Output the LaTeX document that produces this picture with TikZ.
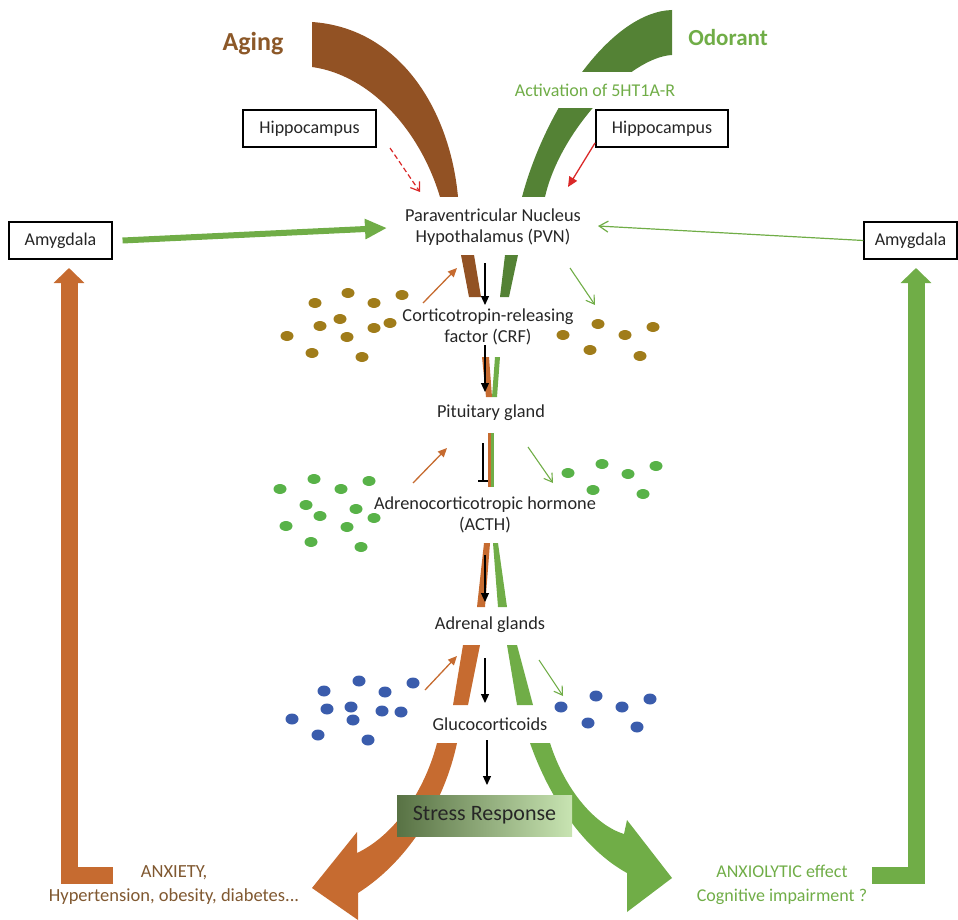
\documentclass[tikz,border=0pt]{standalone}
\usepackage{fontspec}
\setmainfont{Carlito}
\usetikzlibrary{arrows.meta}
\definecolor{brownT}{RGB}{146,82,36}
\definecolor{orangeC}{RGB}{198,107,48}
\definecolor{greenD}{RGB}{84,130,53}
\definecolor{greenL}{RGB}{112,173,71}
\definecolor{dotBrown}{RGB}{160,124,26}
\definecolor{dotGreen}{RGB}{88,178,72}
\definecolor{dotBlue}{RGB}{58,92,172}
\definecolor{redA}{RGB}{218,40,40}
\definecolor{agingTxt}{RGB}{140,88,40}
\definecolor{anxTxt}{RGB}{128,88,48}
\definecolor{stressL}{RGB}{88,114,68}
\definecolor{stressR}{RGB}{200,228,178}
\begin{document}
\begin{tikzpicture}[x=1pt,y=-1pt,
  lbl/.style={font=\fontsize{18.3}{21}\selectfont, align=center, inner sep=0pt, text=black!85},
  boxn/.style={draw=black, line width=1.1pt, fill=white, font=\fontsize{18}{21}\selectfont, inner sep=0pt, minimum height=37pt, text=black!85},
  blk/.style={draw=black, line width=1.1pt, -{Triangle[length=9pt,width=8pt]}},
  osm/.style={draw=orangeC, line width=1.3pt, -{Triangle[length=9pt,width=8pt]}},
  gsm/.style={draw=greenL, line width=1.1pt, -{Straight Barb[length=8pt,width=10pt]}},
  dotb/.style={fill=dotBrown},
  dotg/.style={fill=dotGreen},
  dotu/.style={fill=dotBlue}]
\useasboundingbox (0,0) rectangle (958,920);

% ---- top bands
\fill[brownT] (312,22) .. controls (400,28) and (450,110) .. (458,197) -- (440,197) .. controls (420,130) and (370,75) .. (312,67) -- cycle;
\fill[greenD] (672,10) .. controls (610,12) and (545,110) .. (522,197) -- (545,197) .. controls (560,130) and (630,57) .. (672,55) -- cycle;

% ---- middle segments (brown / orange)
\fill[brownT] (461,255) -- (474,255) -- (481,297) -- (469,297) -- cycle;
\fill[orangeC] (482,357) -- (489,357) -- (492,397) -- (486,397) -- cycle;
\fill[orangeC] (488,433) -- (491,433) -- (491,487) -- (488,487) -- cycle;
\fill[orangeC] (484,543) -- (490,543) -- (485,607) -- (477,607) -- cycle;
\fill[orangeC] (463,645) -- (480,645) -- (468,705) -- (453,705) -- cycle;
% ---- middle segments (green)
\fill[greenD] (505,255) -- (518,255) -- (509,297) -- (500,297) -- cycle;
\fill[greenL] (495,357) -- (500,357) -- (497,397) -- (492,397) -- cycle;
\fill[greenL] (491,433) -- (494,433) -- (494,487) -- (491,487) -- cycle;
\fill[greenL] (493,543) -- (498,543) -- (507,607) -- (498,607) -- cycle;
\fill[greenL] (507,645) -- (517,645) -- (533,705) -- (517,705) -- cycle;

% ---- bottom big arrows
\fill[orangeC] (437,743) -- (457,743) .. controls (445,800) and (410,860) .. (358,893)
  -- (358,920) -- (312,888) -- (357,832) -- (357,853)
  .. controls (395,835) and (425,790) .. (437,743) -- cycle;
\fill[greenL] (530,743) -- (550,743) .. controls (565,790) and (595,825) .. (624,834)
  -- (627,820) -- (672,878) -- (627,912) -- (627,873)
  .. controls (585,850) and (550,800) .. (530,743) -- cycle;

% ---- feedback L arrows
\coordinate (lfoot) at (113,875);
\coordinate (ltip) at (69,268);
\coordinate (rfoot) at (872,875);
\coordinate (rtip) at (916,268);
\draw[orangeC, line width=17pt, line join=miter, -{Triangle[length=15pt,width=30pt]}] (lfoot) -| (ltip);
\draw[greenL, line width=17pt, line join=miter, -{Triangle[length=15pt,width=30pt]}] (rfoot) -| (rtip);

% ---- labels
\node[font=\fontsize{26}{30}\selectfont\bfseries, text=agingTxt, inner sep=0pt] (aging) at (253,44) {Aging};
\node[font=\fontsize{23}{27}\selectfont\bfseries, text=greenL, inner sep=0pt] (odor) at (728,38) {Odorant};
\node[font=\fontsize{18}{21}\selectfont, text=greenL, fill=white, inner xsep=2pt, minimum height=36pt] (act) at (595,90) {Activation of 5HT1A-R};

\node[boxn, minimum width=133pt] (hipL) at (309.5,128.5) {Hippocampus};
\node[boxn, minimum width=132pt] (hipR) at (662,128.5) {Hippocampus};
\node[boxn, minimum width=103pt] (amyL) at (60.5,240.5) {Amygdala};
\node[boxn, minimum width=93pt] (amyR) at (910.5,240.5) {Amygdala};

\node[lbl] (pvn) at (493,227) {Paraventricular Nucleus\\Hypothalamus (PVN)};
\node[lbl] (crf) at (488,327) {Corticotropin-releasing\\factor (CRF)};
\node[lbl] (pit) at (491,413) {Pituitary gland};
\node[lbl] (acth) at (485,515) {Adrenocorticotropic hormone\\(ACTH)};
\node[lbl] (adr) at (490,625) {Adrenal glands};
\node[lbl] (glu) at (490,724) {Glucocorticoids};

\node[left color=stressL, right color=stressR, minimum width=175pt, minimum height=41pt, inner sep=0pt,
  font=\fontsize{22}{26}\selectfont, text=black!85] (stress) at (484.5,815.5) {Stress Response};

\node[font=\fontsize{18.5}{24}\selectfont, text=anxTxt, align=center, inner sep=0pt] (anx) at (174,885) {ANXIETY,\\Hypertension, obesity, diabetes...};
\node[font=\fontsize{18}{24}\selectfont, text=greenL, align=center, inner sep=0pt] (anxio) at (782,885) {ANXIOLYTIC effect\\Cognitive impairment ?};

% ---- amygdala -> PVN
\coordinate (pvnL) at (387,228);
\coordinate (pvnR) at (598,226);
\draw[greenL, line width=6pt, -{Triangle[length=22pt,width=19pt]}] ([xshift=10pt]amyL.east) -- (pvnL);
\draw[greenL, line width=1.2pt, -{Straight Barb[length=9pt,width=11pt]}] (amyR.west) -- (pvnR);

% ---- hippocampus -> PVN
\coordinate (hl1) at (390,148);
\coordinate (hl2) at (420,192);
\coordinate (hr1) at (595,143);
\coordinate (hr2) at (568,187);
\draw[redA, line width=1.2pt, dash pattern=on 5pt off 3pt, -{Straight Barb[length=8pt,width=11pt]}] (hl1) -- (hl2);
\draw[redA, line width=1.3pt, -{Triangle[length=10pt,width=9pt]}] (hr1) -- (hr2);

% ---- black cascade arrows
\draw[blk] (485,263) -- (485,305);
\draw[blk] (485,345) -- (485,392);
\draw[draw=black, line width=1.1pt, -{Bar[width=10pt,line width=2.2pt]}] (483,443) -- (483,482);
\draw[blk] (485,555) -- (485,602);
\draw[blk] (485,658) -- (485,703);
\draw[blk] (487,740) -- (487,785);

% ---- small orange / green arrows
\draw[osm] (423,303) -- (457,268);
\draw[osm] (413,483) -- (447,448);
\draw[osm] (425,690) -- (457,656);
\draw[gsm] (570,268) -- (595,305);
\draw[gsm] (528,447) -- (553,483);
\draw[gsm] (539,660) -- (563,696);

% ---- dots
\foreach \p in {(315,303),(348,293),(374,303),(402,295),(320,326),(340,319),(374,328),(390,323),(287,336),(347,337),(312,353),(362,357),
                (563,335),(598,324),(625,335),(653,327),(590,350),(640,356)}
  \fill[dotb] \p ellipse [x radius=6.5pt, y radius=5pt];
\foreach \p in {(280,489),(314,479),(341,489),(369,481),(306,505),(356,509),(320,516),(374,518),(286,526),(347,527),(311,542),(361,547),
                (568,473),(602,464),(628,474),(656,466),(593,490),(643,494)}
  \fill[dotg] \p ellipse [x radius=6.5pt, y radius=5pt];
\foreach \p in {(324,691),(359,681),(385,692),(413,683),(327,709),(351,707),(353,720),(382,711),(401,712),(292,719),(318,735),(368,740),
                (561,707),(596,696),(622,707),(650,699),(588,723),(637,727)}
  \fill[dotu] \p ellipse [x radius=6.5pt, y radius=5.5pt];
\end{tikzpicture}
\end{document}
